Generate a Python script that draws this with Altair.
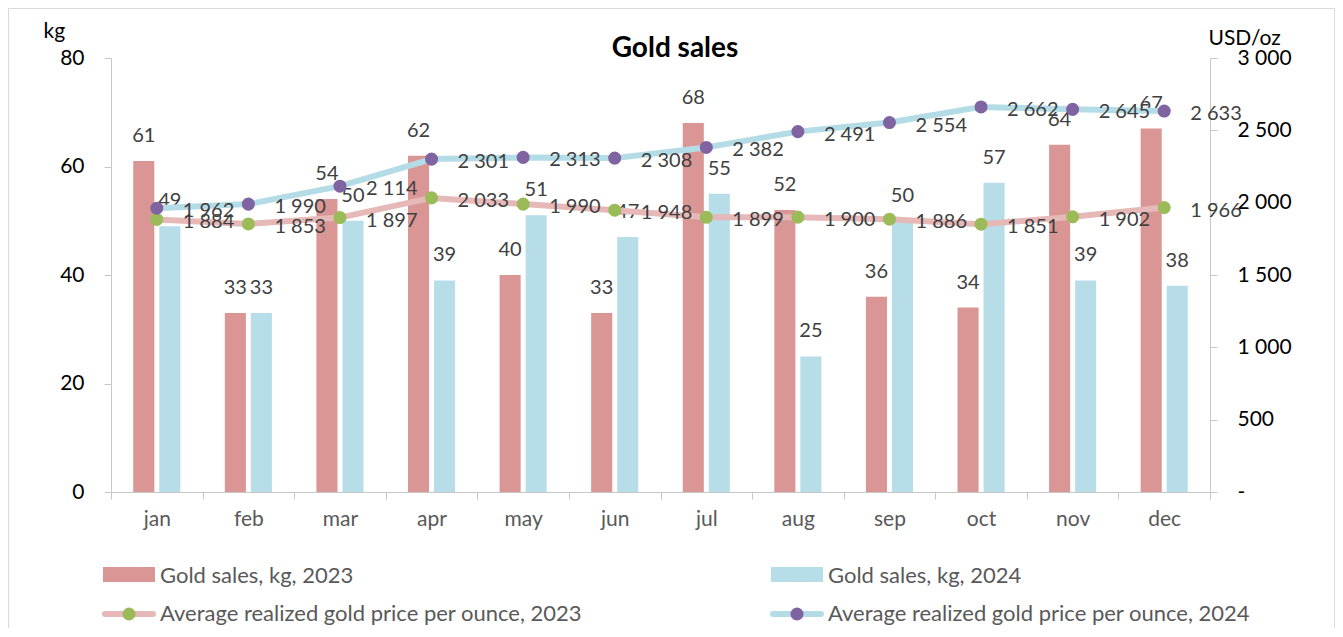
import altair as alt
import pandas as pd

months = ["jan", "feb", "mar", "apr", "may", "jun", "jul", "aug", "sep", "oct", "nov", "dec"]
years = ["2023", "2024"]
sales_2023 = [61, 33, 54, 62, 40, 33, 68, 52, 36, 34, 64, 67]
sales_2024 = [49, 33, 50, 39, 51, 47, 55, 25, 50, 57, 39, 38]
price_2023 = [1884, 1853, 1897, 2033, 1990, 1948, 1899, 1900, 1886, 1851, 1902, 1966]
price_2024 = [1962, 1990, 2114, 2301, 2313, 2308, 2382, 2491, 2554, 2662, 2645, 2633]
kg_ticks = [0, 20, 40, 60, 80]
usd_ticks = [0, 500, 1000, 1500, 2000, 2500, 3000]
chart_title = "Gold sales"
legend_sales = ["Gold sales, kg, 2023", "Gold sales, kg, 2024"]
legend_price = ["Average realized gold price per ounce, 2023",
                "Average realized gold price per ounce, 2024"]


def fmt(v):
    return f"{v:,}".replace(",", " ")


rows = []
for yr, s, p in zip(years, [sales_2023, sales_2024], [price_2023, price_2024]):
    for m, sv, pv in zip(months, s, p):
        rows.append({"month": m, "year": yr, "kg": sv, "price": pv, "price_label": fmt(pv)})
df = pd.DataFrame(rows)

FONT = "Lato"
AX = "#c8c8c8"
RED, BLUE = "#DA9694", "#B7DEE8"
LINE23, LINE24 = "#E6B9B8", "#B4DCE7"
GREEN, PURPLE = "#9BBB59", "#8064A2"
W, H = 1099, 434

x_enc = alt.X(
    "month:N", sort=months,
    scale=alt.Scale(domain=months, paddingInner=0, paddingOuter=0),
    axis=alt.Axis(title=None, labelAngle=0, labelFontSize=21, labelFont=FONT,
                  labelColor="#595959", labelPadding=9, tickBand="extent",
                  tickSize=7, tickColor=AX, domainColor=AX, grid=False),
)
y_kg = alt.Y(
    "kg:Q", scale=alt.Scale(domain=[0, 80], nice=False),
    axis=alt.Axis(orient="left", values=kg_ticks, grid=False, labelFontSize=21,
                  labelFont=FONT, labelColor="#000000", labelPadding=20,
                  tickSize=7, tickColor=AX, domainColor=AX,
                  title="kg", titleAngle=0, titleAlign="left", titleBaseline="alphabetic",
                  titleX=-68, titleY=-21, titleFont=FONT, titleFontSize=21,
                  titleFontWeight="normal", titleColor="#000000"),
)
y_usd = alt.Y(
    "price:Q", scale=alt.Scale(domain=[0, 3000], nice=False),
    axis=alt.Axis(orient="right", values=usd_ticks, grid=False, labelFontSize=21,
                  labelFont=FONT, labelColor="#000000", labelPadding=20,
                  labelExpr="datum.value == 0 ? '-' : replace(format(datum.value, ','), ',', ' ')",
                  tickSize=7, tickColor=AX, domainColor=AX,
                  title="USD/oz", titleAngle=0, titleAlign="left", titleBaseline="alphabetic",
                  titleX=-2, titleY=-14, titleFont=FONT, titleFontSize=21,
                  titleFontWeight="normal", titleColor="#000000"),
)
xoff = alt.XOffset("year:N", scale=alt.Scale(domain=years, paddingInner=0.19, paddingOuter=0.855))

base = alt.Chart(df)

bars = base.mark_bar().encode(
    x=x_enc, xOffset=xoff, y=y_kg,
    color=alt.Color("year:N", scale=alt.Scale(domain=years, range=[RED, BLUE]), legend=None),
)
bar_text = base.mark_text(baseline="alphabetic", dy=-19, fontSize=20, font=FONT,
                          color="#404040").encode(
    x=x_enc, xOffset=xoff, y=y_kg, text=alt.Text("kg:Q"))

left = alt.layer(bars, bar_text)

line23 = base.transform_filter(alt.datum.year == "2023").mark_line(
    strokeWidth=6, color=LINE23, strokeCap="round", strokeJoin="round").encode(x=x_enc, y=y_usd)
line24 = base.transform_filter(alt.datum.year == "2024").mark_line(
    strokeWidth=6, color=LINE24, strokeCap="round", strokeJoin="round").encode(x=x_enc, y=y_usd)
pts23 = base.transform_filter(alt.datum.year == "2023").mark_circle(
    size=170, opacity=1, color=GREEN).encode(x=x_enc, y=y_usd)
pts24 = base.transform_filter(alt.datum.year == "2024").mark_circle(
    size=170, opacity=1, color=PURPLE).encode(x=x_enc, y=y_usd)
price_text = base.mark_text(align="left", baseline="middle", dx=26, dy=3, fontSize=20,
                            font=FONT, color="#404040").encode(
    x=x_enc, y=y_usd, text=alt.Text("price_label:N"))

right = alt.layer(line23, line24, pts23, pts24, price_text)

one = alt.Data(values=[{}])
border = alt.Chart(one).mark_rect(fillOpacity=0, stroke="#d9d9d9", strokeWidth=1).encode(
    x=alt.value(-102.5), x2=alt.value(1223.5), y=alt.value(-49.5), y2=alt.value(640))
title = alt.Chart(one).mark_text(align="center", baseline="alphabetic", fontSize=28,
                                 fontWeight="bold", font=FONT, color="#000000").encode(
    x=alt.value(564), y=alt.value(-1), text=alt.value(chart_title))

ROW1, ROW2 = 517, 556
leg = []
for i, (col_x, fill, lcol, pcol) in enumerate([(-8, RED, LINE23, GREEN), (660, BLUE, LINE24, PURPLE)]):
    leg.append(alt.Chart(one).mark_rect(color=fill).encode(
        x=alt.value(col_x), x2=alt.value(col_x + 52), y=alt.value(ROW1 - 8), y2=alt.value(ROW1 + 7)))
    leg.append(alt.Chart(one).mark_text(align="left", baseline="middle", fontSize=22, font=FONT,
                                        color="#595959").encode(
        x=alt.value(col_x + 57), y=alt.value(ROW1 + 1), text=alt.value(legend_sales[i])))
    leg.append(alt.Chart(one).mark_rule(color=lcol, strokeWidth=6, strokeCap="round").encode(
        x=alt.value(col_x + 2), x2=alt.value(col_x + 50), y=alt.value(ROW2)))
    leg.append(alt.Chart(one).mark_circle(color=pcol, size=170, opacity=1).encode(
        x=alt.value(col_x + 26), y=alt.value(ROW2)))
    leg.append(alt.Chart(one).mark_text(align="left", baseline="middle", fontSize=22, font=FONT,
                                        color="#595959").encode(
        x=alt.value(col_x + 57), y=alt.value(ROW2), text=alt.value(legend_price[i])))

chart = alt.layer(left, right, border, title, *leg).resolve_scale(y="independent").properties(
    width=W, height=H,
    padding={"left": 103, "top": 50, "right": 125, "bottom": 136},
    autosize=alt.AutoSizeParams(type="none"),
    background="white",
).configure_view(stroke=None)

chart.save("out.html", embed_options={"renderer": "svg", "actions": False})
